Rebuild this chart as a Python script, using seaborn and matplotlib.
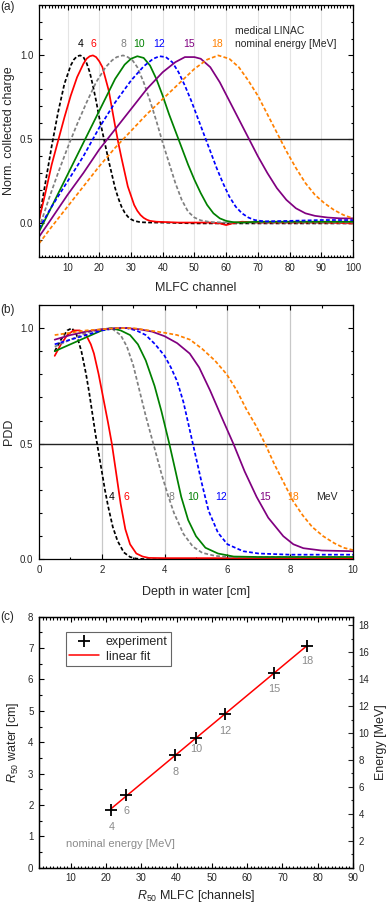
import numpy as np
import pandas as pd
import matplotlib
matplotlib.use("Agg")
import matplotlib.pyplot as plt
from matplotlib.ticker import MultipleLocator
import seaborn as sns

# ---------------- data ----------------
energies = [4, 6, 8, 10, 12, 15, 18]
colors = ["#000000", "#ff0000", "#808080", "#008000", "#0000ff", "#800080", "#ff8000"]
dashed = [True, False, True, False, True, False, True]

# Panel (a): MLFC channel curves
a_x4 = [1, 3, 5, 7, 9, 11, 12, 13, 14, 15, 16, 17, 18, 19, 20, 21.5, 23, 24, 25, 26, 27, 28, 29, 30, 31, 33, 36, 40, 50, 60, 70, 80, 90, 100]
a_y4 = [0.02, 0.24, 0.46, 0.66, 0.83, 0.94, 0.975, 0.995, 1.0, 0.99, 0.955, 0.9, 0.82, 0.73, 0.63, 0.5, 0.37, 0.29, 0.21, 0.15, 0.1, 0.065, 0.04, 0.025, 0.015, 0.007, 0.005, 0.005, 0.0, 0.0, 0.0, 0.0, 0.0, 0.0]
a_x6 = [1, 3, 5, 7, 9, 11, 13, 15, 16, 17, 18, 19, 20, 21, 23, 25, 26, 27, 29, 31, 32, 33, 34, 35, 36, 38, 45, 55, 58, 60, 62, 65, 70, 80, 90, 100]
a_y6 = [0.02, 0.18, 0.35, 0.49, 0.63, 0.76, 0.87, 0.95, 0.98, 0.995, 1.0, 0.99, 0.965, 0.93, 0.79, 0.58, 0.48, 0.39, 0.22, 0.11, 0.075, 0.05, 0.033, 0.022, 0.015, 0.01, 0.005, 0.005, 0.0, -0.01, 0.0, 0.01, 0.005, 0.005, 0.005, 0.0]
a_x8 = [1, 4, 7, 10, 13, 16, 19, 22, 24, 25.5, 27.5, 29, 30.5, 32, 34, 36, 38, 40, 42, 44, 46, 48, 50, 52, 55, 60, 70, 80, 90, 100]
a_y8 = [-0.03, 0.14, 0.3, 0.45, 0.59, 0.72, 0.84, 0.93, 0.97, 0.99, 1.0, 0.99, 0.97, 0.93, 0.84, 0.73, 0.61, 0.48, 0.36, 0.24, 0.14, 0.07, 0.035, 0.018, 0.008, 0.005, 0.005, 0.005, 0.005, 0.005]
a_x10 = [1, 5, 10, 15, 20, 25, 28, 30, 32, 34, 36, 38, 40, 42, 44, 46, 48, 50, 52, 54, 56, 58, 60, 62, 65, 70, 80, 90, 100]
a_y10 = [-0.05, 0.1, 0.29, 0.48, 0.67, 0.86, 0.945, 0.98, 0.995, 0.985, 0.94, 0.86, 0.76, 0.65, 0.55, 0.45, 0.35, 0.26, 0.18, 0.11, 0.06, 0.03, 0.015, 0.008, 0.005, 0.01, 0.01, 0.01, 0.01]
a_x12 = [1, 5, 10, 15, 20, 25, 30, 34, 37, 39, 41, 43, 45, 47, 49, 51, 53, 55, 57, 59, 61, 63, 65, 67, 69, 72, 80, 90, 100]
a_y12 = [-0.03, 0.1, 0.25, 0.4, 0.57, 0.72, 0.85, 0.935, 0.98, 0.995, 0.99, 0.96, 0.9, 0.82, 0.73, 0.63, 0.53, 0.43, 0.33, 0.24, 0.16, 0.1, 0.06, 0.035, 0.02, 0.012, 0.015, 0.02, 0.02]
a_x15 = [1, 5, 10, 15, 20, 25, 30, 35, 40, 44, 47, 50, 52, 55, 58, 61, 64, 67, 70, 73, 76, 79, 82, 85, 88, 92, 96, 100]
a_y15 = [-0.08, 0.03, 0.17, 0.3, 0.44, 0.56, 0.68, 0.8, 0.9, 0.96, 0.99, 0.99, 0.98, 0.93, 0.84, 0.73, 0.62, 0.51, 0.4, 0.3, 0.21, 0.14, 0.09, 0.06, 0.045, 0.035, 0.03, 0.03]
a_x18 = [1, 5, 10, 15, 20, 25, 30, 35, 40, 45, 50, 54, 57.5, 61, 64, 67, 70, 73, 76, 79, 82, 85, 88, 91, 94, 97, 100]
a_y18 = [-0.12, -0.02, 0.1, 0.22, 0.34, 0.45, 0.55, 0.65, 0.74, 0.83, 0.92, 0.975, 1.0, 0.98, 0.93, 0.85, 0.76, 0.65, 0.54, 0.43, 0.33, 0.24, 0.17, 0.12, 0.08, 0.05, 0.03]

# Panel (b): depth dose curves
b_x4 = [0.5, 0.7, 0.9, 1.05, 1.2, 1.35, 1.5, 1.6, 1.7, 1.8, 1.9, 2.0, 2.1, 2.2, 2.35, 2.5, 2.7, 2.9, 3.1, 3.5, 4, 5, 6, 7, 8, 9, 10]
b_y4 = [0.9, 0.95, 0.99, 1.0, 0.97, 0.9, 0.8, 0.72, 0.63, 0.54, 0.46, 0.38, 0.3, 0.23, 0.14, 0.08, 0.03, 0.01, 0.003, 0.0, 0.0, 0.0, 0.0, 0.0, 0.0, 0.0, 0.0]
b_x6 = [0.5, 0.7, 0.9, 1.1, 1.3, 1.5, 1.65, 1.75, 1.9, 2.0, 2.1, 2.2, 2.32, 2.45, 2.6, 2.75, 2.9, 3.1, 3.3, 3.5, 4, 5, 6, 7, 8, 9, 10]
b_y6 = [0.88, 0.93, 0.97, 0.99, 0.99, 0.97, 0.93, 0.89, 0.8, 0.73, 0.66, 0.59, 0.5, 0.38, 0.24, 0.13, 0.065, 0.025, 0.012, 0.006, 0.005, 0.005, 0.005, 0.005, 0.005, 0.005, 0.005]
b_x8 = [0.5, 1, 1.5, 2, 2.3, 2.6, 2.8, 3.0, 3.2, 3.4, 3.64, 3.9, 4.1, 4.3, 4.6, 4.9, 5.2, 5.6, 6, 7, 8, 9, 10]
b_y8 = [0.92, 0.95, 0.98, 0.995, 1.0, 0.97, 0.92, 0.84, 0.73, 0.62, 0.5, 0.37, 0.28, 0.2, 0.11, 0.055, 0.028, 0.015, 0.01, 0.01, 0.01, 0.01, 0.01]
b_x10 = [0.5, 1, 1.5, 2, 2.3, 2.6, 2.9, 3.15, 3.4, 3.68, 3.9, 4.15, 4.35, 4.53, 4.75, 5.0, 5.3, 5.7, 6.2, 7, 8, 9, 10]
b_y10 = [0.9, 0.93, 0.96, 0.99, 1.0, 0.99, 0.97, 0.93, 0.86, 0.75, 0.64, 0.5, 0.38, 0.27, 0.17, 0.1, 0.05, 0.025, 0.012, 0.01, 0.01, 0.01, 0.01]
b_x12 = [0.5, 1, 1.5, 2, 2.5, 2.8, 3.1, 3.4, 3.7, 4.0, 4.2, 4.4, 4.6, 4.8, 5.0, 5.2, 5.4, 5.7, 6.0, 6.5, 7, 8, 9, 10]
b_y12 = [0.93, 0.95, 0.97, 0.99, 1.0, 1.0, 0.99, 0.97, 0.93, 0.88, 0.83, 0.77, 0.68, 0.56, 0.44, 0.32, 0.21, 0.115, 0.065, 0.035, 0.025, 0.02, 0.02, 0.02]
b_x15 = [0.5, 1, 1.5, 2, 2.5, 2.8, 3.2, 3.6, 4.0, 4.4, 4.8, 5.1, 5.45, 5.8, 6.19, 6.55, 6.93, 7.3, 7.78, 8.1, 8.42, 9, 10]
b_y15 = [0.95, 0.97, 0.985, 0.995, 1.0, 1.0, 0.995, 0.985, 0.965, 0.935, 0.89, 0.83, 0.73, 0.62, 0.5, 0.38, 0.27, 0.18, 0.1, 0.065, 0.048, 0.038, 0.035]
b_x18 = [0.5, 1, 1.5, 2, 2.5, 3, 3.5, 4, 4.4, 4.81, 5.2, 5.6, 5.98, 6.3, 6.6, 6.9, 7.2, 7.5, 7.8, 8.1, 8.4, 8.7, 9.05, 9.4, 9.7, 10]
b_y18 = [0.97, 0.98, 0.99, 0.995, 1.0, 1.0, 0.99, 0.98, 0.97, 0.95, 0.91, 0.86, 0.8, 0.73, 0.65, 0.58, 0.5, 0.41, 0.33, 0.25, 0.19, 0.14, 0.1, 0.07, 0.05, 0.04]

# Panel (c): R50 comparison
r50_mlfc = [21.5, 25.8, 39.6, 45.5, 53.8, 67.6, 76.9]
r50_water = [1.85, 2.33, 3.59, 4.13, 4.9, 6.19, 7.08]

# label positions (panel a / b)
a_label_x = [14.1, 18.3, 27.6, 32.5, 38.9, 48.4, 57.2]
b_label_x = [2.31, 2.79, 4.22, 4.91, 5.79, 7.2, 8.1]

# ---------------- style ----------------
sns.set_style("ticks")
plt.rcParams["font.family"] = ["Liberation Sans", "DejaVu Sans"]
plt.rcParams["mathtext.fontset"] = "custom"
plt.rcParams["mathtext.rm"] = "Liberation Sans"
plt.rcParams["mathtext.it"] = "Liberation Sans:italic"
plt.rcParams["axes.linewidth"] = 0.9
plt.rcParams["axes.edgecolor"] = "black"

W, H = 388, 906
fig = plt.figure(figsize=(W / 100, H / 100), dpi=100)

def rect(l, t, r, b):
    return [l / W, 1 - b / H, (r - l) / W, (b - t) / H]

axA = fig.add_axes(rect(39, 5, 353, 257))
axB = fig.add_axes(rect(39, 305, 353, 559.3))
axC = fig.add_axes(rect(39, 616.7, 353, 867.7))

dash_map = {e: ((2.2, 1.3) if d else "") for e, d in zip(energies, dashed)}
pal = dict(zip(energies, colors))

def long_df(xs, ys):
    frames = []
    for e, x, y in zip(energies, xs, ys):
        frames.append(pd.DataFrame({"x": x, "y": y, "E": e}))
    return pd.concat(frames, ignore_index=True)

dfA = long_df([a_x4, a_x6, a_x8, a_x10, a_x12, a_x15, a_x18],
              [a_y4, a_y6, a_y8, a_y10, a_y12, a_y15, a_y18])
dfB = long_df([b_x4, b_x6, b_x8, b_x10, b_x12, b_x15, b_x18],
              [b_y4, b_y6, b_y8, b_y10, b_y12, b_y15, b_y18])

tick_fs = 7
lab_fs = 9

def style_ax(ax):
    ax.tick_params(which="both", direction="in", top=True, right=True, labelsize=tick_fs,
                   width=0.8, color="black", pad=4)
    ax.tick_params(which="major", length=3.5)
    ax.tick_params(which="minor", length=1.8)
    for s in ax.spines.values():
        s.set_visible(True)
        s.set_linewidth(0.9)

# ---- panel (a)
for gx in range(10, 100, 10):
    axA.axvline(gx, color="#e4e4e4", lw=0.8, zorder=0)
axA.axhline(0.5, color="#222222", lw=1.0, zorder=1)
sns.lineplot(data=dfA, x="x", y="y", hue="E", style="E", palette=pal, dashes=dash_map,
             ax=axA, legend=False, lw=1.25, sort=False, estimator=None)
axA.set_xlim(1, 100)
axA.set_ylim(-0.2, 1.3)
axA.xaxis.set_major_locator(MultipleLocator(10))
axA.xaxis.set_minor_locator(MultipleLocator(1))
axA.yaxis.set_major_locator(MultipleLocator(0.5))
axA.yaxis.set_minor_locator(MultipleLocator(0.1))
axA.yaxis.set_major_formatter(matplotlib.ticker.FormatStrFormatter("%.1f"))
axA.set_xlabel("MLFC channel", fontsize=lab_fs, labelpad=7)
axA.set_ylabel("Norm. collected charge", fontsize=lab_fs, labelpad=4)
style_ax(axA)
for e, c, lx in zip(energies, colors, a_label_x):
    axA.text(lx, 1.07, str(e), color=c, fontsize=7.5, ha="center", va="center")
axA.text(62.8, 1.145, "medical LINAC", fontsize=7.5, ha="left", va="center")
axA.text(62.8, 1.07, "nominal energy [MeV]", fontsize=7.5, ha="left", va="center")

# ---- panel (b)
for gx in [2, 4, 6, 8]:
    axB.axvline(gx, color="#c8c8c8", lw=0.9, zorder=0)
axB.axhline(0.5, color="#222222", lw=1.0, zorder=1)
sns.lineplot(data=dfB, x="x", y="y", hue="E", style="E", palette=pal, dashes=dash_map,
             ax=axB, legend=False, lw=1.25, sort=False, estimator=None)
axB.set_xlim(0, 10)
axB.set_ylim(0, 1.1)
axB.xaxis.set_major_locator(MultipleLocator(2))
axB.xaxis.set_minor_locator(MultipleLocator(1))
axB.yaxis.set_major_locator(MultipleLocator(0.5))
axB.yaxis.set_minor_locator(MultipleLocator(0.1))
axB.yaxis.set_major_formatter(matplotlib.ticker.FormatStrFormatter("%.1f"))
axB.set_xlabel("Depth in water [cm]", fontsize=lab_fs, labelpad=8)
axB.set_ylabel("PDD", fontsize=lab_fs, labelpad=4)
style_ax(axB)
for e, c, lx in zip(energies, colors, b_label_x):
    axB.text(lx, 0.27, str(e), color=c, fontsize=7.5, ha="center", va="center")
axB.text(9.16, 0.27, "MeV", fontsize=7.5, ha="center", va="center")

# ---- panel (c)
dfC = pd.DataFrame({"mlfc": r50_mlfc, "water": r50_water})
sns.regplot(data=dfC, x="mlfc", y="water", ax=axC, ci=None, scatter=False, truncate=True,
            line_kws=dict(color="#ff0000", lw=1.1, zorder=2), label="linear fit")
sns.scatterplot(data=dfC, x="mlfc", y="water", ax=axC, marker="+", s=70, color="black",
                linewidth=1.3, zorder=3, label="experiment")
axC.set_xlim(1, 90)
axC.set_ylim(0, 8)
axC.xaxis.set_major_locator(MultipleLocator(10))
axC.xaxis.set_minor_locator(MultipleLocator(1))
axC.yaxis.set_major_locator(MultipleLocator(1))
axC.yaxis.set_minor_locator(MultipleLocator(0.5))
axC.set_xlabel(r"$R_{50}$ MLFC [channels]", fontsize=lab_fs, labelpad=3.5)
axC.set_ylabel(r"$R_{50}$ water [cm]", fontsize=lab_fs, labelpad=5)
style_ax(axC)
axC.tick_params(which="both", right=False)
offsets = {4: (0, -12.5), 6: (0, -12), 8: (0, -12.5), 10: (0.5, -8), 12: (0, -12.5), 15: (0, -11), 18: (0, -11)}
for e, xm, ym in zip(energies, r50_mlfc, r50_water):
    axC.annotate(str(e), (xm, ym), xytext=offsets[e], textcoords="offset points",
                 color="#8a8a8a", fontsize=7.8, ha="center", va="center")
axC.text(24.2, 0.76, "nominal energy [MeV]", color="#8a8a8a", fontsize=8, ha="center", va="center")
h, l = axC.get_legend_handles_labels()
order = [l.index("experiment"), l.index("linear fit")]
leg = axC.legend([h[i] for i in order], [l[i] for i in order], loc="upper left",
                 bbox_to_anchor=(0.085, 0.94), fontsize=9, frameon=True, fancybox=False,
                 edgecolor="#666666", framealpha=1, handlelength=2.4, borderpad=0.3,
                 labelspacing=0.25, handletextpad=0.5, borderaxespad=0)
leg.get_frame().set_linewidth(0.8)

axR = axC.twinx()
axR.set_ylim(0, 8 * 2.33)
axR.yaxis.set_major_locator(MultipleLocator(2))
axR.yaxis.set_minor_locator(MultipleLocator(1))
axR.tick_params(which="both", direction="in", labelsize=tick_fs, width=0.8, pad=4)
axR.tick_params(which="major", length=3.5)
axR.tick_params(which="minor", length=1.8)
axR.set_ylabel("Energy [MeV]", fontsize=lab_fs, labelpad=4)
for s in axR.spines.values():
    s.set_linewidth(0.9)

# panel letters
fig.text(0.0, 1 - 7 / H, "(a)", fontsize=8.5, ha="left", va="center")
fig.text(0.0, 1 - 310 / H, "(b)", fontsize=8.5, ha="left", va="center")
fig.text(0.0, 1 - 617 / H, "(c)", fontsize=8.5, ha="left", va="center")

fig.savefig("out.png", dpi=100)
